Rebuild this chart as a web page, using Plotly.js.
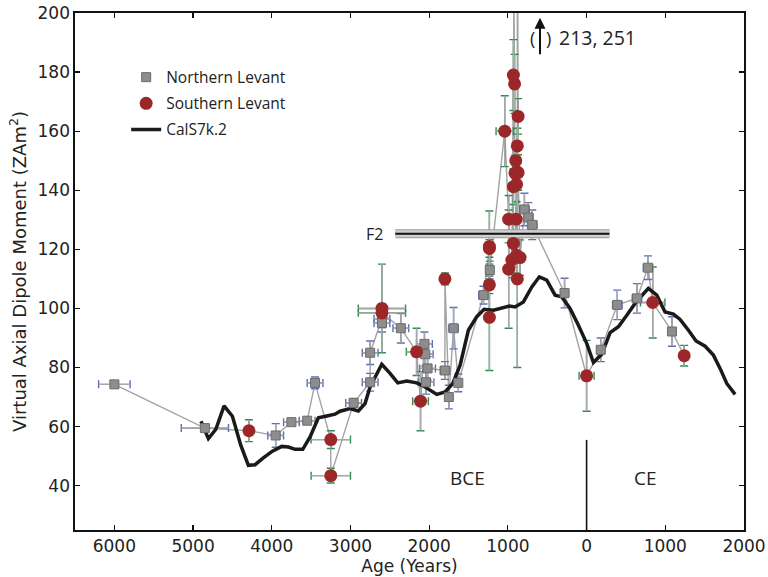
<!DOCTYPE html>
<html><head><meta charset="utf-8">
<script src="https://cdn.plot.ly/plotly-3.0.1.min.js"></script>
<style>html,body{margin:0;padding:0;background:#fff;} #chart{width:768px;height:577px;}</style>
</head><body><div id="chart"></div>
<script>
// Age axis: negative = BCE, positive = CE
const xTickVals = [-6000,-5000,-4000,-3000,-2000,-1000,0,1000,2000];
const xTickText = ['6000','5000','4000','3000','2000','1000','0','1000','2000'];
const yTickVals = [40,60,80,100,120,140,160,180,200];

// Northern Levant (grey squares)
const northAge    = [-6000,-4850,-3950,-3750,-3550,-3450,-2960,-2750,-2750,-2600,-2600,-2360,-2060,-2050,-2040,-2020,-1800,-1750,-1690,-1630,-1310,-1230,-790,-740,-690,-280,180,390,640,780,1085];
const northVal    = [74.3,59.5,57.0,61.5,62.0,74.8,68.0,75.0,85.0,96.5,95.0,93.3,88.0,84.5,75.0,79.7,79.0,70.0,93.3,74.8,104.5,113.0,133.5,130.8,128.3,105.2,86.0,101.2,103.4,113.8,92.2];
const northAgeErr = [200,300,100,100,100,100,100,100,100,100,100,100,100,100,100,100,60,40,60,40,60,50,60,60,60,50,50,60,60,60,40];
const northValErr = [1,1,4,1,1,2,1.5,3,4,3,3,5,4,4,4,4,3,4,7,3,3,3,5.5,5,5,5,4,5,5,4,5];

// Southern Levant (red circles)
const southAge    = [-4290,-3250,-3250,-2600,-2600,-2160,-2110,-1800,-1235,-1235,-1235,-1235,-1040,-990,-990,-950,-930,-930,-930,-925,-915,-910,-900,-895,-890,-890,-880,-880,-880,-870,-870,-845,0,840,1240];
const southVal    = [58.6,55.6,43.4,100.0,98.5,85.3,68.6,110.0,121.0,120.3,108.0,97.0,160.0,130.2,113.3,116.4,179.0,141.2,122.0,213,176.0,145.8,150.0,130.2,142.0,118.0,155.0,110.0,251,165.0,146.0,117.2,77.2,102.0,84.0];
const southAgeErr = [20,250,250,300,300,130,100,50,50,50,50,50,110,40,40,40,40,40,40,40,40,40,40,40,40,40,40,40,40,40,40,40,95,155,30];
const southValErr = [3.7,3,2.5,15,3,8,10,2,12,3,3,18,12,8,20,6,12,6,8,10,10,6,6,6,6,6,6,30,10,6,6,6,12,12,3.5];

// CalS7k.2 model curve
const calAge = [-4900,-4805,-4710,-4606,-4500,-4394,-4297,-4212,-4107,-3992,-3873,-3789,-3704,-3606,-3513,-3450,-3408,-3300,-3196,-3132,-3005,-2900,-2815,-2751,-2666,-2602,-2497,-2399,-2285,-2158,-2052,-1903,-1798,-1700,-1607,-1502,-1395,-1302,-1184,-1078,-981,-909,-803,-696,-600,-506,-400,-315,-210,-104,3,87,193,299,404,511,616,700,785,892,997,1103,1188,1294,1391,1506,1611,1696,1781,1887];
const calVal = [61.8,55.9,59.1,67.0,63.5,53.7,46.9,47.1,49.4,51.7,53.3,53.1,52.3,52.3,56.5,60.8,63.0,63.6,64.2,65.2,66.1,65.3,67.8,73.4,78.0,81.1,78.0,74.8,75.4,74.8,73.4,70.9,71.7,74.6,80.8,92.6,97.2,99.7,99.4,100.0,100.8,100.5,102.2,107.3,110.7,109.6,104.5,103.9,100.0,94.3,88.1,81.7,84.5,91.8,93.8,97.7,101.7,104.3,106.8,104.5,98.8,98.1,96.3,92.6,89.0,87.2,84.2,79.7,74.6,70.9];

// F2 feature bar
const f2Age = [-2430, 290];
const f2Val = [125.3, 125.3];

// BCE / CE divider
const dividerAge = [0, 0];
const dividerVal = [25, 55.5];

// Off-scale values note
const offScaleAge = -592;
const offScaleArrowVal = [185.5, 198.4];

// combined connecting line (all samples in age order)
const allPts = northAge.map((a,i)=>[a,northVal[i]]).concat(southAge.map((a,i)=>[a,southVal[i]]));
allPts.sort((p,q)=>p[0]-q[0]);

const GREY_STEM = '#a9a9a9';
const BLUE = '#5b6db8';
const GREEN = '#2f8a4f';

function errTrace(x, y, ex, ey, col, capw){
  return {x:x, y:y, type:'scatter', mode:'markers', showlegend:false, hoverinfo:'skip',
    marker:{size:1, opacity:0},
    error_x:{type:'data', array:ex, symmetric:true, color:col, thickness:1.4, width:capw},
    error_y:{type:'data', array:ey, symmetric:true, color:col, thickness:1.4, width:capw}};
}

const traces = [
  {x: allPts.map(p=>p[0]), y: allPts.map(p=>p[1]), type:'scatter', mode:'lines', showlegend:false,
   line:{color:'#a3a3a3', width:1.4}, hoverinfo:'skip'},
  errTrace(northAge, northVal, northAgeErr, northValErr, BLUE, 4),
  errTrace(southAge, southVal, southAgeErr, southValErr, GREEN, 4),
  errTrace(northAge, northVal, northAgeErr, northValErr, GREY_STEM, 0),
  errTrace(southAge, southVal, southAgeErr, southValErr, GREY_STEM, 0),
  {x: f2Age, y: f2Val, type:'scatter', mode:'lines', showlegend:false, hoverinfo:'skip',
   line:{color:'#9a9a9a', width:9}},
  {x: f2Age, y: f2Val, type:'scatter', mode:'lines', showlegend:false, hoverinfo:'skip',
   line:{color:'#cfcfcf', width:7}},
  {x: f2Age, y: f2Val, type:'scatter', mode:'lines', showlegend:false, hoverinfo:'skip',
   line:{color:'#111111', width:2}},
  {x: calAge, y: calVal, type:'scatter', mode:'lines', name:'CalS7k.2', legendrank:3, legendgroup:'c',
   line:{color:'#1a1a1a', width:3.5}},
  {x: northAge, y: northVal, type:'scatter', mode:'markers', name:'Northern Levant', legendrank:1, legendgroup:'a',
   marker:{symbol:'square', size:9, color:'#8d8d8d', line:{color:'#6c6c6c', width:1}}},
  {x: southAge, y: southVal, type:'scatter', mode:'markers', name:'Southern Levant', legendrank:2, legendgroup:'b',
   marker:{symbol:'circle', size:13, color:'#9c2729', line:{width:0}}},
  {x: dividerAge, y: dividerVal, type:'scatter', mode:'lines', showlegend:false, hoverinfo:'skip',
   line:{color:'#111', width:1.6}}
];

const axFont = {family:'DejaVu Sans', size:17, color:'#222'};
const layout = {
  width:768, height:577,
  margin:{l:75, r:24, t:13, b:47},
  paper_bgcolor:'#fff', plot_bgcolor:'#fff',
  showlegend:true,
  legend:{x:0.0765, y:0.908, xanchor:'left', yanchor:'top', bgcolor:'rgba(0,0,0,0)', borderwidth:0,
          traceorder:'grouped', tracegroupgap:3, font:{family:'Open Sans', size:15.5, color:'#222'}},
  xaxis:{range:[-6500,2000], tickvals:xTickVals, ticktext:xTickText, ticks:'inside', ticklen:5, tickwidth:1.2,
         tickcolor:'#111', showline:true, linecolor:'#111', linewidth:1.6, mirror:'ticks', showgrid:false, zeroline:false,
         tickfont:axFont, title:{text:'Age (Years)', font:axFont, standoff:4}},
  yaxis:{range:[25,200], tickvals:yTickVals, ticks:'inside', ticklen:5, tickwidth:1.2,
         tickcolor:'#111', showline:true, linecolor:'#111', linewidth:1.6, mirror:'ticks', showgrid:false, zeroline:false,
         tickfont:axFont, title:{text:'Virtual Axial Dipole Moment (ZAm<sup>2</sup>)', font:{family:'DejaVu Sans', size:18, color:'#222'}, standoff:6}},
  annotations:[
    {x:-1510, y:42.5, xref:'x', yref:'y', text:'BCE', showarrow:false, font:{family:'Open Sans', size:19, color:'#222'}},
    {x:744, y:42.5, xref:'x', yref:'y', text:'CE', showarrow:false, font:{family:'Open Sans', size:19, color:'#222'}},
    {x:-2561, y:f2Val[0], xref:'x', yref:'y', text:'F2', xanchor:'right', showarrow:false, font:{family:'Open Sans', size:16, color:'#222'}},
    {x:offScaleAge, y:offScaleArrowVal[1], ax:offScaleAge, ay:offScaleArrowVal[0], xref:'x', yref:'y', axref:'x', ayref:'y',
     text:'', showarrow:true, arrowhead:2, arrowsize:1.1, arrowwidth:2, arrowcolor:'#111'},
    {x:-681, y:191.6, xref:'x', yref:'y', text:'(', showarrow:false, font:{family:'Open Sans', size:18, color:'#222'}},
    {x:-478, y:191.6, xref:'x', yref:'y', text:')', showarrow:false, font:{family:'Open Sans', size:18, color:'#222'}},
    {x:-375, y:191.6, xref:'x', yref:'y', text:'213, 251', xanchor:'left', showarrow:false, font:{family:'Open Sans', size:19.5, color:'#222'}}
  ]
};
Plotly.newPlot('chart', traces, layout, {displayModeBar:false, staticPlot:true});
</script></body></html>
